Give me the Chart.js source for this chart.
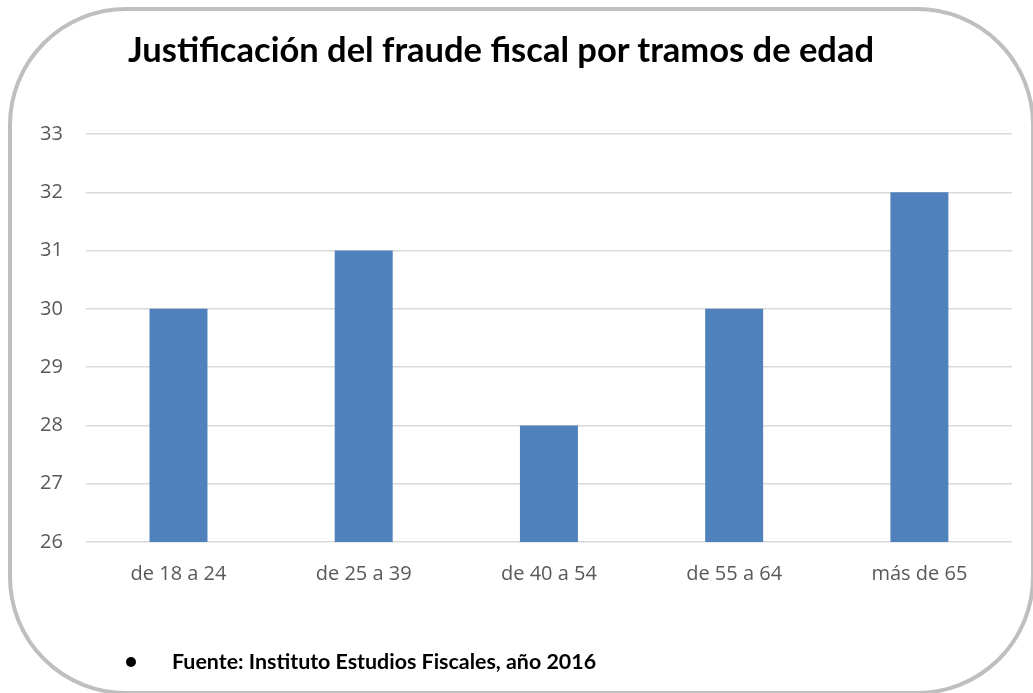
<!DOCTYPE html>
<html>
<head>
<meta charset="utf-8">
<script src="https://cdn.jsdelivr.net/npm/chart.js@4"></script>
<style>
  html, body { margin: 0; padding: 0; background: #fff; }
  #wrap { position: relative; width: 1033px; height: 693px; overflow: hidden; }
  #frame {
    position: absolute; left: 8px; top: 7px; width: 1019px; height: 680px;
    border: 4px solid #BFBFBF; border-radius: 118px;
  }
  #title {
    position: absolute; left: 128px; top: 28px;
    font-family: Lato, sans-serif; font-weight: bold; font-size: 34.5px; color: #000;
    white-space: nowrap;
  }
  #note {
    position: absolute; left: 126px; top: 648px;
    font-family: Lato, sans-serif; font-weight: bold; font-size: 21.4px; color: #000;
    white-space: nowrap;
  }
  #note .dot {
    display: inline-block; width: 10px; height: 10px; border-radius: 50%;
    background: #000; margin-right: 36px; vertical-align: 2px;
  }
  #chartBox { position: absolute; left: 0; top: 0; width: 1033px; height: 693px; }
</style>
</head>
<body>
<div id="wrap">
  <div id="frame"></div>
  <div id="chartBox"><canvas id="bars"></canvas></div>
  <div id="title">Justificación del fraude fiscal por tramos de edad</div>
  <div id="note"><span class="dot"></span>Fuente: Instituto Estudios Fiscales, año 2016</div>
</div>
<script>
let ageGroups = ['de 18 a 24', 'de 25 a 39', 'de 40 a 54', 'de 55 a 64', 'más de 65']
let fraudValues = [30, 31, 28, 30, 32]
let yMin = 26
let yMax = 33

let barsElement = document.getElementById('bars').getContext('2d')
let barsChart = new Chart(barsElement, {
  type: 'bar',
  data: {
    labels: ageGroups,
    datasets: [
      {
        label: 'Justificación',
        data: fraudValues,
        backgroundColor: '#4F81BD',
        barPercentage: 1,
        categoryPercentage: 0.313
      }
    ]
  },
  options: {
    responsive: true,
    maintainAspectRatio: false,
    animation: false,
    layout: {
      padding: { top: 134, right: 21, bottom: 87, left: 17 }
    },
    plugins: {
      legend: { display: false },
      title: { display: false },
      tooltip: { enabled: false }
    },
    scales: {
      x: {
        grid: { display: false, drawTicks: false },
        border: { display: false },
        ticks: {
          padding: 20,
          color: '#595959',
          font: { family: 'Open Sans', size: 20 }
        }
      },
      y: {
        min: yMin,
        max: yMax,
        grid: { color: '#D9D9D9', lineWidth: 1.5, drawTicks: false },
        border: { display: false },
        ticks: {
          stepSize: 1,
          padding: 23,
          color: '#595959',
          font: { family: 'Open Sans', size: 20 }
        }
      }
    }
  }
})
</script>
</body>
</html>
